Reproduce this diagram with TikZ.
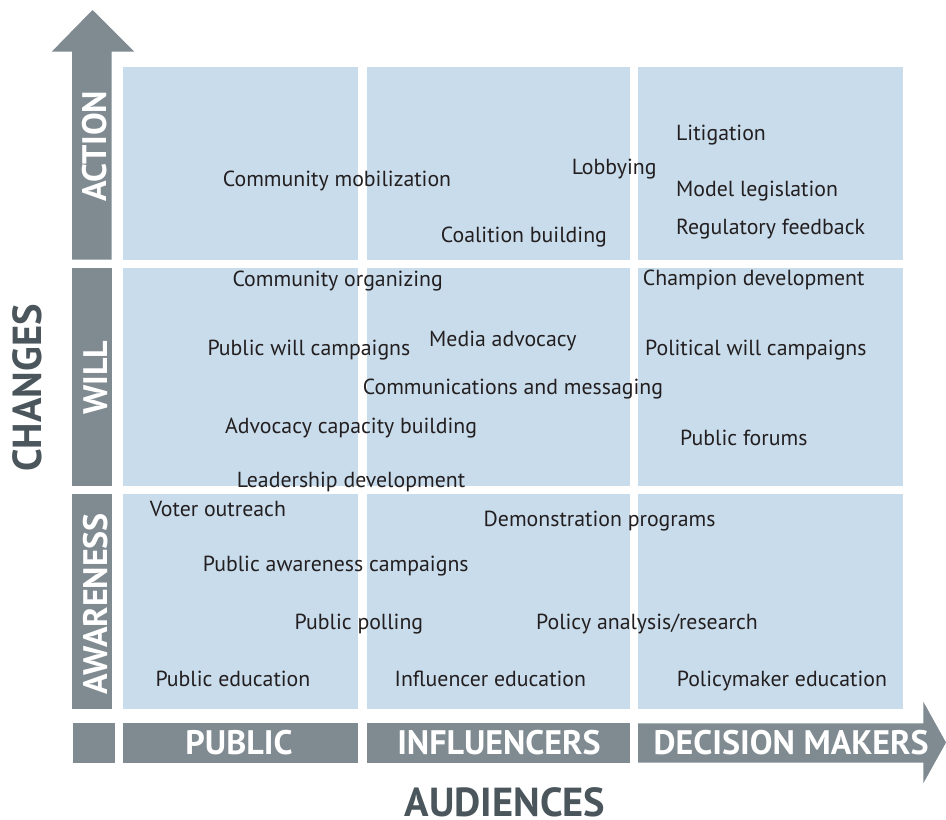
\documentclass[tikz,border=0pt]{standalone}
\usepackage{fontspec}
\setmainfont{PT Sans}
\definecolor{cellblue}{HTML}{C9DCEB}
\definecolor{bargray}{HTML}{7F8A91}
\definecolor{headgray}{HTML}{4A555C}
\definecolor{labelblack}{HTML}{231F20}
\tikzset{cell/.style = {fill=cellblue}}
\tikzset{bar/.style = {fill=bargray}}
\tikzset{item/.style = {anchor=base west, inner sep=0pt, text=labelblack, font=\fontsize{21.8}{26}\selectfont}}
\tikzset{head/.style = {inner sep=0pt, text=white, font=\fontsize{34}{40}\selectfont\bfseries}}
\tikzset{axis/.style = {inner sep=0pt, text=headgray, font=\fontsize{40.5}{46}\selectfont\bfseries}}
\begin{document}
\begin{tikzpicture}[x=1pt,y=-1pt]
\useasboundingbox (0,0) rectangle (946,820);
% cells
\fill[cell] (122.7,67) rectangle (358.3,259.7);
\fill[cell] (366.7,67) rectangle (630,259.7);
\fill[cell] (638,67) rectangle (902.7,259.7);
\fill[cell] (122.7,268.3) rectangle (358.3,486);
\fill[cell] (366.7,268.3) rectangle (630,486);
\fill[cell] (638,268.3) rectangle (902.7,486);
\fill[cell] (122.7,494.3) rectangle (358.3,709.3);
\fill[cell] (366.7,494.3) rectangle (630,709.3);
\fill[cell] (638,494.3) rectangle (902.7,709.3);
% bars
\fill[bar] (72,259.7) -- (72,51.7) -- (51.7,51.7) -- (92.5,10) -- (134.3,51.7) -- (111.7,51.7) -- (111.7,259.7) -- cycle;
\fill[bar] (72,268.3) rectangle (111.7,486);
\fill[bar] (72,494.3) rectangle (111.7,709.3);
\fill[bar] (72.7,723.3) rectangle (114.7,762.7);
\fill[bar] (122.7,723.3) rectangle (358.3,762.7);
\fill[bar] (366.7,723.3) rectangle (630,762.7);
\fill[bar] (638,723.3) -- (923.3,723.3) -- (923.3,701.7) -- (946,742.5) -- (923.3,783.3) -- (923.3,762.7) -- (638,762.7) -- cycle;
% bar labels
\node[head, rotate=90] (action) at (95,146.3) {ACTION};
\node[head, rotate=90] (will) at (95.8,378) {WILL};
\node[head, rotate=90] (awareness) at (95.8,604) {AWARENESS};
\node[head] (public) at (239,743) {PUBLIC};
\node[head] (influencers) at (499,743) {INFLUENCERS};
\node[head] (decisionmakers) at (791.2,743) {DECISION MAKERS};
\node[axis, rotate=90] (changes) at (27.3,388) {CHANGES};
\node[axis] (audiences) at (505,802) {AUDIENCES};
% action
\node[item] (mobilization) at (222.7,186) {Community mobilization};
\node[item] (lobbying) at (571.7,174) {Lobbying};
\node[item] (coalition) at (440.7,242.7) {Coalition building};
\node[item] (litigation) at (676,140.7) {Litigation};
\node[item] (modellaw) at (676,196.7) {Model legislation};
\node[item] (regulatory) at (676,234) {Regulatory feedback};
% will
\node[item] (organizing) at (232.3,286.7) {Community organizing};
\node[item] (champion) at (642.7,285) {Champion development};
\node[item] (publicwill) at (207.3,355) {Public will campaigns};
\node[item] (media) at (429,346.7) {Media advocacy};
\node[item] (politicalwill) at (645,355.7) {Political will campaigns};
\node[item] (messaging) at (362.7,394.3) {Communications and messaging};
\node[item] (capacity) at (225,433.3) {Advocacy capacity building};
\node[item] (forums) at (680,445.7) {Public forums};
\node[item] (leadership) at (236.7,487.7) {Leadership development};
% awareness
\node[item] (voter) at (149.6,516) {Voter outreach};
\node[item] (demonstration) at (483.5,526) {Demonstration programs};
\node[item] (publicawareness) at (202.7,571.7) {Public awareness campaigns};
\node[item] (polling) at (294.5,629.3) {Public polling};
\node[item] (policy) at (536,629.3) {Policy analysis/research};
\node[item] (publicedu) at (155.3,686.7) {Public education};
\node[item] (influeneredu) at (394.5,686.7) {Influencer education};
\node[item] (policymakeredu) at (676.7,686.7) {Policymaker education};
\end{tikzpicture}
\end{document}
